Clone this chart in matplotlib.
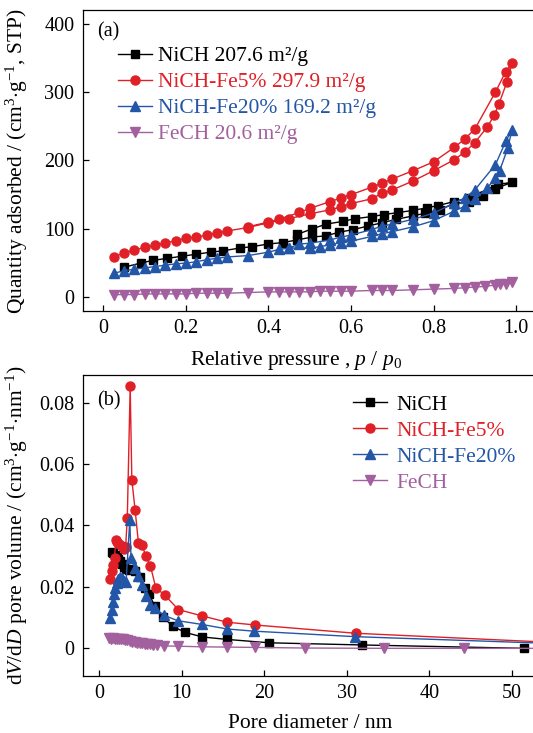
import matplotlib
matplotlib.use("Agg")
import matplotlib.pyplot as plt

plt.rcParams['font.family'] = ['Liberation Serif', 'DejaVu Serif']
plt.rcParams['mathtext.fontset'] = 'custom'
plt.rcParams['mathtext.rm'] = 'Liberation Serif'
plt.rcParams['mathtext.it'] = 'Liberation Serif:italic'
plt.rcParams['font.size'] = 15.5

# (a) N2 isotherms: adsorption then desorption branch
ni_ads_p = [0.05, 0.09, 0.12, 0.155, 0.19, 0.225, 0.26, 0.29, 0.33, 0.36, 0.4, 0.435, 0.47, 0.505,
            0.54, 0.57, 0.605, 0.64, 0.675, 0.71, 0.75, 0.78, 0.815, 0.85, 0.885, 0.92, 0.95, 0.99]
ni_ads_q = [44, 50, 54, 57, 60, 63, 66, 68, 72, 74, 78, 80, 84, 88,
            90, 95, 99, 104, 109, 114, 119, 123, 128, 137, 140, 148, 159, 168]
ni_des_p = [0.955, 0.885, 0.85, 0.81, 0.785, 0.75, 0.715, 0.68, 0.65, 0.61, 0.58, 0.54, 0.505, 0.47]
ni_des_q = [165, 145, 140, 134, 131, 127, 124, 121, 118, 115, 111, 107, 100, 92]

fe5_ads_p = [0.025, 0.05, 0.075, 0.1, 0.125, 0.15, 0.175, 0.2, 0.225, 0.25, 0.275, 0.3, 0.35, 0.4,
             0.45, 0.5, 0.55, 0.575, 0.6, 0.65, 0.675, 0.7, 0.75, 0.8, 0.85, 0.875, 0.9, 0.93,
             0.947, 0.958, 0.978, 0.99]
fe5_ads_q = [59, 65, 69, 73, 76, 79, 83, 86, 88, 91, 94, 97, 102, 109,
             115, 122, 128, 132, 137, 144, 152, 157, 170, 185, 201, 212, 226, 249,
             266, 282, 315, 342]
fe5_des_p = [0.975, 0.95, 0.9, 0.875, 0.85, 0.8, 0.75, 0.7, 0.675, 0.65, 0.6, 0.575, 0.55, 0.5,
             0.475, 0.425, 0.4, 0.35]
fe5_des_q = [330, 300, 246, 231, 219, 198, 185, 173, 167, 161, 150, 145, 140, 130,
             124, 114, 110, 103]

fe20_ads_p = [0.025, 0.05, 0.075, 0.1, 0.125, 0.15, 0.175, 0.2, 0.225, 0.25, 0.275, 0.3, 0.35, 0.4,
              0.425, 0.45, 0.5, 0.525, 0.55, 0.575, 0.6, 0.65, 0.675, 0.7, 0.75, 0.8, 0.85, 0.875,
              0.9, 0.93, 0.95, 0.96, 0.98, 0.99]
fe20_ads_q = [35, 39, 41, 43, 45, 47, 49, 50, 52, 55, 57, 59, 61, 66,
              70, 72, 72, 74, 77, 80, 82, 89, 93, 96, 103, 112, 126, 133,
              143, 160, 174, 185, 218, 245]
fe20_des_p = [0.975, 0.95, 0.9, 0.875, 0.85, 0.8, 0.75, 0.7, 0.675, 0.65, 0.6, 0.575, 0.55, 0.5,
              0.475, 0.45]
fe20_des_q = [228, 194, 157, 145, 138, 123, 114, 107, 104, 99, 91, 88, 84, 79, 78, 72]

fech_ads_p = [0.025, 0.05, 0.075, 0.1, 0.125, 0.15, 0.175, 0.2, 0.225, 0.25, 0.275, 0.3, 0.35, 0.4,
              0.425, 0.45, 0.475, 0.5, 0.525, 0.55, 0.575, 0.6, 0.65, 0.675, 0.7, 0.75, 0.8, 0.85,
              0.875, 0.9, 0.925, 0.95, 0.96, 0.975, 0.99]
fech_ads_q = [4, 4, 4, 5, 5, 5, 5, 5, 6, 6, 6, 6, 7, 8,
              8, 8, 8, 8, 9, 9, 9, 9, 10, 10, 10, 11, 12, 13,
              14, 15, 16, 18, 19, 20, 22]

labels_a = ['NiCH 207.6 m²/g', 'NiCH-Fe5% 297.9 m²/g', 'NiCH-Fe20% 169.2 m²/g', 'FeCH 20.6 m²/g']

# (b) pore size distribution
ni_d = [1.5, 1.7, 1.9, 2.1, 2.3, 2.5, 2.75, 3.0, 3.3, 3.6, 4.0, 4.3, 4.9, 5.5, 6.0, 6.75, 7.7,
        8.9, 10.4, 12.5, 15.5, 20.6, 31.8, 51.4]
ni_v = [0.0313, 0.031, 0.0303, 0.0298, 0.029, 0.0283, 0.0275, 0.0265, 0.0257, 0.0255, 0.0258,
        0.0253, 0.0232, 0.0195, 0.0178, 0.0137, 0.0102, 0.0072, 0.0052, 0.0037, 0.0029, 0.0018,
        0.0011, 0.0]

fe5_d = [1.3, 1.5, 1.7, 1.85, 2.0, 2.2, 2.45, 2.7, 2.95, 3.2, 3.4, 3.75, 3.95, 4.35, 4.75, 5.15,
         5.65, 6.2, 6.85, 7.95, 9.6, 12.4, 15.5, 18.9, 31.1, 60]
fe5_v = [0.0227, 0.0251, 0.0272, 0.0295, 0.0352, 0.0345, 0.034, 0.0333, 0.0325, 0.033, 0.0425,
         0.0853, 0.0548, 0.045, 0.0343, 0.0338, 0.0301, 0.0269, 0.0197, 0.0173, 0.0126, 0.0106,
         0.0085, 0.0076, 0.0049, 0.0013]

fe20_d = [1.35, 1.5, 1.65, 1.8, 1.95, 2.1, 2.3, 2.55, 2.75, 3.0, 3.25, 3.7, 3.85, 4.3, 4.7, 5.2,
          5.7, 6.2, 6.8, 7.8, 9.5, 12.4, 15.5, 18.7, 31.0, 60]
fe20_v = [0.0098, 0.0124, 0.0152, 0.0176, 0.0198, 0.0212, 0.0225, 0.0233, 0.0228, 0.0218, 0.0215,
          0.0417, 0.0295, 0.0262, 0.0235, 0.0205, 0.017, 0.014, 0.013, 0.0108, 0.009, 0.0078,
          0.0063, 0.0056, 0.0038, 0.0011]

fech_d = [1.15, 1.4, 1.65, 1.9, 2.15, 2.4, 2.65, 2.9, 3.15, 3.4, 3.7, 4.0, 4.3, 4.6, 4.9, 5.2, 5.5,
          5.8, 6.1, 6.5, 7.0, 7.8, 9.5, 12.4, 15.5, 18.9, 24.9, 34.5, 44.2, 60]
fech_v = [0.0034, 0.0032, 0.0033, 0.0031, 0.0032, 0.003, 0.0031, 0.0029, 0.0028, 0.0027, 0.0024,
          0.0022, 0.002, 0.0018, 0.0017, 0.0016, 0.0015, 0.0014, 0.0013, 0.0012, 0.0011, 0.0008,
          0.0007, 0.0005, 0.0004, 0.0003, 0.0001, 0.0, 0.0, 0.0]

labels_b = ['NiCH', 'NiCH-Fe5%', 'NiCH-Fe20%', 'FeCH']

colors = ['black', '#e01f26', '#2356a6', '#a2609f']
markers = ['s', 'o', '^', 'v']
msizes = [5.5, 6.5, 6.5, 6.5]

fig = plt.figure(figsize=(5.33, 7.33), dpi=100)
ax1 = fig.add_axes([0.1552, 0.5757, 0.8518, 0.4107])
ax2 = fig.add_axes([0.1552, 0.0778, 0.8518, 0.4106])

iso = [(ni_ads_p + ni_des_p, ni_ads_q + ni_des_q),
       (fe5_ads_p + fe5_des_p, fe5_ads_q + fe5_des_q),
       (fe20_ads_p + fe20_des_p, fe20_ads_q + fe20_des_q),
       (fech_ads_p, fech_ads_q)]
for (x, y), c, m, ms, lab in zip(iso, colors, markers, msizes, labels_a):
    ax1.plot(x, y, color=c, marker=m, ms=ms, lw=1.0, label=lab)

psd = [(ni_d, ni_v), (fe5_d, fe5_v), (fe20_d, fe20_v), (fech_d, fech_v)]
for (x, y), c, m, ms, lab in zip(psd, colors, markers, msizes, labels_b):
    ax2.plot(x, y, color=c, marker=m, ms=ms, lw=1.0, label=lab)

ax1.set_xlim(-0.05, 1.05)
ax1.set_ylim(-20, 420)
ax1.set_xticks([0, 0.2, 0.4, 0.6, 0.8, 1.0])
ax1.set_xticklabels(['0', '0.2', '0.4', '0.6', '0.8', '1.0'])
ax1.set_yticks([0, 100, 200, 300, 400])
ax1.set_xlabel(r'Relative pressure , $\it{p}$ / $\it{p}_0$')
ax1.xaxis.set_label_coords(0.47, -0.127)
ax1.set_ylabel(r'Quantity adsorbed / (cm$^3$$\cdot$g$^{-1}$, STP)')
ax1.yaxis.set_label_coords(-0.117, 0.5)
ax1.text(0.031, 0.927, '(a)', transform=ax1.transAxes, va='center', ha='left', fontsize=14.5)

ax2.set_xlim(-2, 53)
ax2.set_ylim(-0.009, 0.089)
ax2.set_xticks([0, 10, 20, 30, 40, 50])
ax2.set_yticks([0, 0.02, 0.04, 0.06, 0.08])
ax2.set_yticklabels(['0', '0.02', '0.04', '0.06', '0.08'])
ax2.set_xlabel('Pore diameter / nm')
ax2.xaxis.set_label_coords(0.5, -0.127)
ax2.set_ylabel(r'd$\it{V}$/d$\it{D}$ pore volume / (cm$^3$$\cdot$g$^{-1}$$\cdot$nm$^{-1}$)')
ax2.yaxis.set_label_coords(-0.117, 0.5)
ax2.text(0.031, 0.915, '(b)', transform=ax2.transAxes, va='center', ha='left', fontsize=14.5)

for ax in (ax1, ax2):
    ax.tick_params(direction='in', length=4, width=0.9, pad=6, labelsize=14.5)
    for s in ax.spines.values():
        s.set_linewidth(0.9)

leg1 = ax1.legend(loc='upper left', bbox_to_anchor=(0.077, 0.88), frameon=False, fontsize=15.5,
                  handlelength=1.6, handletextpad=0.25, labelspacing=0.28, borderpad=0,
                  borderaxespad=0)
for t, c in zip(leg1.get_texts(), colors):
    t.set_color(c)

leg2 = ax2.legend(loc='upper left', bbox_to_anchor=(0.595, 0.935), frameon=False, fontsize=15.5,
                  handlelength=1.6, handletextpad=0.42, labelspacing=0.28, borderpad=0,
                  borderaxespad=0)
for t, c in zip(leg2.get_texts(), colors):
    t.set_color(c)

fig.savefig('out.png', dpi=100)
